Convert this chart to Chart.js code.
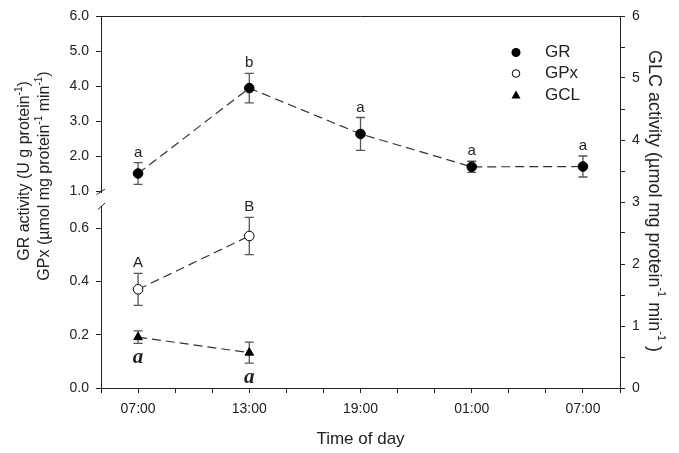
<!DOCTYPE html>
<html lang="en">
<head>
<meta charset="UTF-8">
<title>GR, GPx and GCL activity</title>
<style>
  body { margin: 0; background: #fff; }
  #wrap { width: 679px; height: 453px; }
</style>
</head>
<body>
<div id="wrap"><canvas id="activityChart" width="679" height="453"></canvas></div>
<script src="https://cdn.jsdelivr.net/npm/chart.js"></script>
<script>
// sampling times, as hours after the first 07:00 sample
const sampleHours = [0, 6, 12, 18, 24];
const timeLabels = ['07:00', '13:00', '19:00', '01:00', '07:00'];

const grMean = [1.50, 3.94, 2.63, 1.69, 1.70];
const grErr = [0.31, 0.42, 0.47, 0.16, 0.30];
const grLetters = ['a', 'b', 'a', 'a', 'a'];

const gpxMean = [0.37, 0.57];
const gpxErr = [0.06, 0.07];
const gpxLetters = ['A', 'B'];

const gclMean = [0.82, 0.57];
const gclErr = [0.10, 0.17];
const gclLetters = ['a', 'a'];

// axis ticks (left axis is broken in two parts)
const upperTicks = [1.0, 1.5, 2.0, 2.5, 3.0, 3.5, 4.0, 4.5, 5.0, 5.5, 6.0];
const lowerTicks = [0, 0.1, 0.2, 0.3, 0.4, 0.5, 0.6];
const rightTicks = [0, 0.5, 1, 1.5, 2, 2.5, 3, 3.5, 4, 4.5, 5, 5.5, 6];
const hourTicks = [-2, 0, 2, 4, 6, 8, 10, 12, 14, 16, 18, 20, 22, 24, 26];

const INK = '#222';
const SANS = "'Liberation Sans', Arial, sans-serif";

const toPoints = (mean) => mean.map((v, i) => ({ x: sampleHours[i], y: v }));

// error bars + significance letters
const errorBars = {
    id: 'errorBars',
    beforeDatasetsDraw(chart) {
        const ctx = chart.ctx;
        const xs = chart.scales.x;
        ctx.save();
        ctx.strokeStyle = '#555';
        ctx.lineWidth = 1.3;
        chart.data.datasets.forEach(ds => {
            const ys = chart.scales[ds.yAxisID];
            ds.errors.forEach((e, i) => {
                const px = xs.getPixelForValue(ds.data[i].x);
                const top = ys.getPixelForValue(ds.data[i].y + e);
                const bot = ys.getPixelForValue(ds.data[i].y - e);
                ctx.beginPath();
                ctx.moveTo(px, top); ctx.lineTo(px, bot);
                ctx.moveTo(px - 4.5, top); ctx.lineTo(px + 4.5, top);
                ctx.moveTo(px - 4.5, bot); ctx.lineTo(px + 4.5, bot);
                ctx.stroke();
            });
        });
        ctx.restore();
    },
    afterDatasetsDraw(chart) {
        const ctx = chart.ctx;
        const xs = chart.scales.x;
        ctx.save();
        ctx.fillStyle = INK;
        ctx.textAlign = 'center';
        ctx.textBaseline = 'alphabetic';
        chart.data.datasets.forEach(ds => {
            const ys = chart.scales[ds.yAxisID];
            ds.letters.forEach((l, i) => {
                const px = xs.getPixelForValue(ds.data[i].x);
                if (ds.lettersBelow) {
                    ctx.font = "italic bold 21px 'Liberation Serif', 'Times New Roman', serif";
                    ctx.fillText(l, px, ys.getPixelForValue(ds.data[i].y - ds.errors[i]) + 20);
                } else {
                    ctx.font = '15px ' + SANS;
                    ctx.fillText(l, px, ys.getPixelForValue(ds.data[i].y + ds.errors[i]) - 6);
                }
            });
        });
        ctx.restore();
    }
};

// text with small raised parts, centred on (cx, cy), rotated
function drawRich(ctx, parts, cx, cy, rot, size) {
    const big = size + 'px ' + SANS, small = Math.round(size * 0.62) + 'px ' + SANS;
    let w = 0;
    parts.forEach(p => { ctx.font = p.sup ? small : big; w += ctx.measureText(p.t).width; });
    ctx.save();
    ctx.translate(cx, cy);
    ctx.rotate(rot);
    ctx.textBaseline = 'middle';
    ctx.textAlign = 'left';
    let x = -w / 2;
    parts.forEach(p => {
        ctx.font = p.sup ? small : big;
        ctx.fillText(p.t, x, p.sup ? -size * 0.38 : 0);
        x += ctx.measureText(p.t).width;
    });
    ctx.restore();
}

const decorations = {
    id: 'decorations',
    afterDraw(chart) {
        const ctx = chart.ctx;
        const a = chart.chartArea;
        ctx.save();
        ctx.strokeStyle = INK;
        ctx.lineWidth = 1;
        // top frame line
        ctx.beginPath();
        ctx.moveTo(a.left, a.top + 0.5);
        ctx.lineTo(a.right, a.top + 0.5);
        ctx.stroke();

        // axis break marks
        ctx.fillStyle = '#fff';
        ctx.fillRect(a.left - 3, 193, 6, 13);
        ctx.beginPath();
        ctx.moveTo(a.left - 4.5, 194.5); ctx.lineTo(a.left + 4, 189);
        ctx.moveTo(a.left - 3, 209.5); ctx.lineTo(a.left + 4, 203);
        ctx.stroke();

        // axis titles
        ctx.fillStyle = INK;
        drawRich(ctx, [{ t: 'GR activity (U g protein' }, { t: '-1', sup: true }, { t: ')' }], 25, 171, -Math.PI / 2, 16);
        drawRich(ctx, [{ t: 'GPx (\u00b5mol mg protein' }, { t: '-1', sup: true }, { t: ' min' }, { t: '-1', sup: true }, { t: ')' }], 45, 176, -Math.PI / 2, 16);
        drawRich(ctx, [{ t: 'GLC activity (\u00b5mol mg protein' }, { t: '-1', sup: true }, { t: ' min' }, { t: '-1', sup: true }, { t: ' )' }], 654, 201, Math.PI / 2, 18);

        // legend
        const items = [
            { label: 'GR', y: 52.5, draw: (x, y) => { ctx.beginPath(); ctx.arc(x, y, 4.5, 0, 2 * Math.PI); ctx.fillStyle = '#000'; ctx.fill(); } },
            { label: 'GPx', y: 73.5, draw: (x, y) => { ctx.beginPath(); ctx.arc(x, y, 3.8, 0, 2 * Math.PI); ctx.strokeStyle = '#000'; ctx.stroke(); } },
            { label: 'GCL', y: 95, draw: (x, y) => { ctx.beginPath(); ctx.moveTo(x, y - 4.5); ctx.lineTo(x + 4.5, y + 3.5); ctx.lineTo(x - 4.5, y + 3.5); ctx.closePath(); ctx.fillStyle = '#000'; ctx.fill(); } }
        ];
        items.forEach(it => {
            it.draw(516, it.y);
            ctx.fillStyle = INK;
            ctx.font = '17px ' + SANS;
            ctx.textAlign = 'left';
            ctx.textBaseline = 'middle';
            ctx.fillText(it.label, 545, it.y);
        });
        ctx.restore();
    }
};

const tickFont = { family: SANS, size: 14 };
const axisGrid = { drawOnChartArea: false, tickLength: 5, tickColor: INK, tickWidth: 1 };
const axisBorder = { color: INK, width: 1 };

new Chart(document.getElementById('activityChart'), {
    type: 'line',
    data: {
        datasets: [
            {
                label: 'GR',
                data: toPoints(grMean),
                errors: grErr,
                letters: grLetters,
                yAxisID: 'yUp',
                borderColor: '#333',
                borderWidth: 1.2,
                borderDash: [9, 5],
                pointStyle: 'circle',
                pointRadius: 4.8,
                pointBackgroundColor: '#000',
                pointBorderColor: '#000',
                pointBorderWidth: 1
            },
            {
                label: 'GPx',
                data: toPoints(gpxMean),
                errors: gpxErr,
                letters: gpxLetters,
                yAxisID: 'yLow',
                borderColor: '#333',
                borderWidth: 1.2,
                borderDash: [9, 5],
                pointStyle: 'circle',
                pointRadius: 4.8,
                pointBackgroundColor: '#fff',
                pointBorderColor: '#000',
                pointBorderWidth: 1
            },
            {
                label: 'GCL',
                data: toPoints(gclMean),
                errors: gclErr,
                letters: gclLetters,
                lettersBelow: true,
                yAxisID: 'y2',
                borderColor: '#333',
                borderWidth: 1.2,
                borderDash: [9, 5],
                pointStyle: 'triangle',
                pointRadius: 5,
                pointBackgroundColor: '#000',
                pointBorderColor: '#000',
                pointBorderWidth: 1
            }
        ]
    },
    options: {
        responsive: false,
        animation: false,
        layout: { padding: { top: 16, left: 0, right: 0, bottom: 0 } },
        plugins: { legend: { display: false }, tooltip: { enabled: false } },
        elements: { line: { tension: 0 } },
        scales: {
            x: {
                type: 'linear',
                min: -2,
                max: 26,
                afterBuildTicks: s => { s.ticks = hourTicks.map(v => ({ value: v })); },
                afterFit: s => { s.height = 65; },
                ticks: {
                    autoSkip: false,
                    maxRotation: 0,
                    padding: 8,
                    color: INK,
                    font: tickFont,
                    callback: v => { const i = sampleHours.indexOf(v); return i < 0 ? '' : timeLabels[i]; }
                },
                grid: axisGrid,
                border: axisBorder,
                title: { display: true, text: 'Time of day', color: INK, font: { family: SANS, size: 17 }, padding: { top: 4, bottom: 3 } }
            },
            // lower part of the broken left axis (listed first: left stacks are laid out in reverse)
            yLow: {
                type: 'linear',
                position: 'left',
                stack: 'left',
                stackWeight: 188,
                min: 0,
                max: 0.705,
                afterBuildTicks: s => { s.ticks = lowerTicks.map(v => ({ value: v })); },
                afterFit: s => { s.width = 101; },
                ticks: { padding: 7, color: INK, font: tickFont, callback: v => Math.round(v * 10) % 2 === 0 ? v.toFixed(1) : '' },
                grid: axisGrid,
                border: axisBorder
            },
            yUp: {
                type: 'linear',
                position: 'left',
                stack: 'left',
                stackWeight: 184,
                min: 0.743,
                max: 6,
                afterBuildTicks: s => { s.ticks = upperTicks.map(v => ({ value: v })); },
                afterFit: s => { s.width = 101; },
                ticks: { padding: 7, color: INK, font: tickFont, callback: v => Number.isInteger(v) ? v.toFixed(1) : '' },
                grid: axisGrid,
                border: axisBorder
            },
            y2: {
                type: 'linear',
                position: 'right',
                min: 0,
                max: 6,
                afterBuildTicks: s => { s.ticks = rightTicks.map(v => ({ value: v })); },
                afterFit: s => { s.width = 59; },
                ticks: { padding: 7, color: INK, font: tickFont, callback: v => Number.isInteger(v) ? String(v) : '' },
                grid: axisGrid,
                border: axisBorder
            }
        }
    },
    plugins: [errorBars, decorations]
});
</script>
</body>
</html>
